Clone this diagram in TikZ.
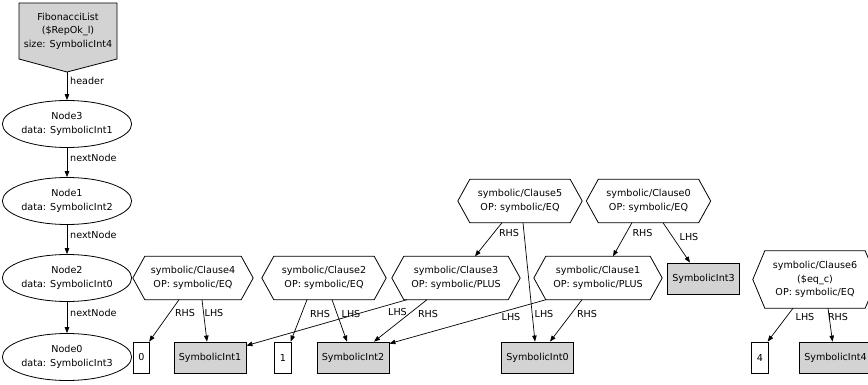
\documentclass[tikz,border=0pt]{standalone}
\usepackage{fontspec}
\setmainfont{DejaVu Sans}
\usetikzlibrary{calc,arrows.meta,shapes.geometric}
\definecolor{boxgray}{RGB}{211,211,211}
\begin{document}
\begin{tikzpicture}[x=1pt,y=-1pt,
  every node/.style={font=\fontsize{9.6}{13.5}\selectfont, inner sep=0pt},
  ell/.style={draw, ellipse, minimum width=114pt, minimum height=47pt, align=center, line width=0.8pt},
  hexa/.style={rectangle, minimum height=43pt, align=center},
  hexline/.style={line width=0.8pt},
  gbox/.style={draw, fill=boxgray, minimum width=72pt, minimum height=31pt, line width=0.8pt},
  wbox/.style={draw, minimum width=16.5pt, minimum height=31pt, line width=0.8pt},
  arr/.style={-{Triangle[length=6pt,width=4.5pt]}, line width=0.7pt}
]
\useasboundingbox (0,0) rectangle (868,385);
\clip (0,0) rectangle (868,385);

% FibonacciList (inverted house)
\filldraw[fill=boxgray, line width=0.8pt] (19,3) -- (117,3) -- (117,59) -- (67,72) -- (19,59) -- cycle;
\node[align=center] (fib) at (68,31) {FibonacciList\\(\$RepOk\_l)\\size: SymbolicInt4};
\coordinate (fibtip) at (67,72);

% list nodes
\node[ell] (n3) at (67,124) {Node3\\data: SymbolicInt1};
\node[ell] (n1) at (67,201) {Node1\\data: SymbolicInt2};
\node[ell] (n2) at (67,278) {Node2\\data: SymbolicInt0};
\node[ell] (n0) at (67,357) {Node0\\data: SymbolicInt3};

% clauses
\node[hexa, minimum width=120pt] (c4) at (193,278) {symbolic/Clause4\\OP: symbolic/EQ};
\node[hexa, minimum width=124pt] (c2) at (324,278) {symbolic/Clause2\\OP: symbolic/EQ};
\node[hexa, minimum width=128pt] (c3) at (456,278) {symbolic/Clause3\\OP: symbolic/PLUS};
\node[hexa, minimum width=128pt] (c1) at (598,278) {symbolic/Clause1\\OP: symbolic/PLUS};
\node[hexa, minimum width=124pt] (c5) at (520,201) {symbolic/Clause5\\OP: symbolic/EQ};
\node[hexa, minimum width=124pt] (c0) at (648.5,201) {symbolic/Clause0\\OP: symbolic/EQ};
\node[hexa, minimum width=124pt, minimum height=57pt] (c6) at (815,279.5) {symbolic/Clause6\\(\$eq\_c)\\OP: symbolic/EQ};
\foreach \n in {c4,c2,c3,c1,c5,c0,c6}
  \draw[hexline] (\n.west) -- ([xshift=12pt]\n.north west) -- ([xshift=-12pt]\n.north east) -- (\n.east) -- ([xshift=-12pt]\n.south east) -- ([xshift=12pt]\n.south west) -- cycle;

% value boxes
\node[wbox] (b0) at (141.5,357.5) {0};
\node[gbox] (s1) at (210,357.5) {SymbolicInt1};
\node[wbox] (b1) at (283,357.5) {1};
\node[gbox] (s2) at (353,357.5) {SymbolicInt2};
\node[gbox] (s0) at (537.5,357.5) {SymbolicInt0};
\node[gbox] (s3) at (703.5,278.5) {SymbolicInt3};
\node[wbox] (b4) at (760,357.5) {4};
\node[gbox] (s4) at (835.5,357.5) {SymbolicInt4};

% list edges
\draw[arr] (fibtip) -- (n3);
\draw[arr] (n3) -- (n1);
\draw[arr] (n1) -- (n2);
\draw[arr] (n2) -- (n0);
\node[anchor=west] (lh) at (70,81) {header};
\node[anchor=west] (ln1) at (70,158) {nextNode};
\node[anchor=west] (ln2) at (70,235) {nextNode};
\node[anchor=west] (ln3) at (70,313) {nextNode};

% clause edges
\draw[arr] ([xshift=-14pt]c4.south) -- ([xshift=-1pt]b0.north east);
\draw[arr] ([xshift=9pt]c4.south) -- ([xshift=-3pt]s1.north);
\draw[arr] ([xshift=-17pt]c2.south) -- ([xshift=-1pt]b1.north east);
\draw[arr] ([xshift=8pt]c2.south) -- ([xshift=-6pt]s2.north);
\draw[arr] ([xshift=-49pt]c3.south) -- ($(s1.north east)+(0,4)$);
\draw[arr] ([xshift=-29pt]c3.south) -- ([xshift=21pt]s2.north);
\draw[arr] ([xshift=-52pt]c1.south) -- ($(s2.north east)+(0,2)$);
\draw[arr] ([xshift=-16pt]c1.south) -- ([xshift=12.5pt]s0.north);
\draw[arr] ([xshift=-18pt]c5.south) -- ([xshift=19pt]c3.north);
\draw[arr] ([xshift=3pt]c5.south) -- ([xshift=-2.5pt]s0.north);
\draw[arr] ([xshift=-16.5pt]c0.south) -- ([xshift=15pt]c1.north);
\draw[arr] ([xshift=14.5pt]c0.south) -- ([xshift=-13.5pt]s3.north);
\draw[arr] ([xshift=-22pt]c6.south) -- ([xshift=-1pt]b4.north east);
\draw[arr] ([xshift=13pt]c6.south) -- ([xshift=-3pt]s4.north);

% edge labels
\node (l4r) at (185,313) {RHS};
\node (l4l) at (214,313) {LHS};
\node (l2r) at (320,314) {RHS};
\node (l2l) at (351,314) {LHS};
\node (l3l) at (397.5,312) {LHS};
\node (l3r) at (428,314) {RHS};
\node (l1l) at (511,317) {LHS};
\node (l1r) at (587,314) {RHS};
\node (l5r) at (509,233) {RHS};
\node (l5l) at (544,314) {LHS};
\node (l0r) at (642.5,233) {RHS};
\node (l0l) at (689,237) {LHS};
\node (l6l) at (805,317) {LHS};
\node (l6r) at (838,317) {RHS};
\end{tikzpicture}
\end{document}
